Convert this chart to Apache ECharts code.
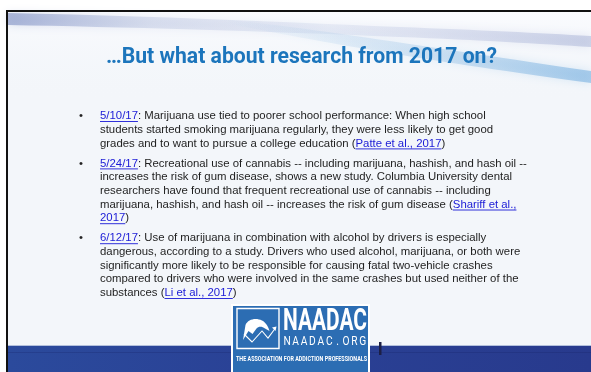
<!DOCTYPE html>
<html>
<head>
<meta charset="utf-8">
<script src="https://cdn.jsdelivr.net/npm/echarts@6/dist/echarts.min.js"></script>
<style>html,body{margin:0;padding:0;background:#fff;}#c{width:591px;height:372px;}</style>
</head>
<body>
<div id="c"></div>
<script>
// ---- content (text "data") ----
const titleText = '\u2026But what about research from 2017 on?';
const dates = ['5/10/17', '5/24/17', '6/12/17'];
const bullet1Lines = [
  [[dates[0], 1], [': Marijuana use tied to poorer school performance: When high school', 0]],
  [['students started smoking marijuana regularly, they were less likely to get good', 0]],
  [['grades and to want to pursue a college education (', 0], ['Patte et al., 2017', 1], [')', 0]]
];
const bullet2Lines = [
  [[dates[1], 1], [': Recreational use of cannabis -- including marijuana, hashish, and hash oil --', 0]],
  [['increases the risk of gum disease, shows a new study. Columbia University dental', 0]],
  [['researchers have found that frequent recreational use of cannabis -- including', 0]],
  [['marijuana, hashish, and hash oil -- increases the risk of gum disease (', 0], ['Shariff et al.,', 1]],
  [['2017', 1], [')', 0]]
];
const bullet3Lines = [
  [[dates[2], 1], [': Use of marijuana in combination with alcohol by drivers is especially', 0]],
  [['dangerous, according to a study. Drivers who used alcohol, marijuana, or both were', 0]],
  [['significantly more likely to be responsible for causing fatal two-vehicle crashes', 0]],
  [['compared to drivers who were involved in the same crashes but used neither of the', 0]],
  [['substances (', 0], ['Li et al., 2017', 1], [')', 0]]
];
const bullets = [bullet1Lines, bullet2Lines, bullet3Lines];
const logoName = 'NAADAC';
const logoUrl = 'NAADAC.ORG';
const logoTagline = 'THE ASSOCIATION FOR ADDICTION PROFESSIONALS';

// ---- layout helpers ----
const mctx = document.createElement('canvas').getContext('2d');
function tw(t, font) { mctx.font = font; return mctx.measureText(t).width; }
const BODY_FAMILY = '"Liberation Sans", Arial, sans-serif';
const TITLE_FAMILY = 'Roboto, "Liberation Sans", sans-serif';

const els = [];
function rect(x, y, w, h, fill, extra) {
  els.push(Object.assign({ type: 'rect', shape: { x, y, width: w, height: h }, style: { fill } }, extra || {}));
}
function text(x, y, t, font, fill, align, extra) {
  els.push(Object.assign({
    type: 'text', x, y,
    style: { text: t, font, fill, align: align || 'left', verticalAlign: 'middle',
             textAlign: align || 'left', textVerticalAlign: 'middle' }
  }, extra || {}));
}
let pathCount = 0;
function path(d, style, extra) {
  const name = 'decoPath' + (pathCount++);
  echarts.graphic.registerShape(name, echarts.graphic.extendPath(d, {}));
  els.push(Object.assign({ type: name, style }, extra || {}));
}

// page + slide background
rect(0, 0, 591, 372, '#ffffff');
rect(6, 10, 585, 362, '#f3f6fa');
rect(8, 12, 583, 90, { type: 'linear', x: 0, y: 0, x2: 0, y2: 1,
  colorStops: [{ offset: 0, color: 'rgba(250,251,254,1)' }, { offset: 1, color: 'rgba(243,246,250,0)' }] });

// swoosh bands (soft)
path('M8,13 C120,15 260,21 400,27 C480,30 540,33 591,36 L591,47 C540,44 480,40 400,37 C260,31 120,27 8,25 Z', {
  fill: { type: 'linear', x: 0, y: 0, x2: 1, y2: 0, colorStops: [
    { offset: 0, color: 'rgba(125,142,195,0.6)' },
    { offset: 0.25, color: 'rgba(160,174,212,0.3)' },
    { offset: 0.55, color: 'rgba(170,182,218,0.18)' },
    { offset: 0.8, color: 'rgba(160,172,212,0.3)' },
    { offset: 1, color: 'rgba(150,162,205,0.4)' }] },
  shadowBlur: 10, shadowColor: 'rgba(160,172,212,0.6)'
});
path('M220,19 C320,29 420,46 591,71 L591,83 C430,61 330,44 220,22 Z', {
  fill: { type: 'linear', x: 0, y: 0, x2: 1, y2: 0, colorStops: [
    { offset: 0, color: 'rgba(140,185,225,0)' },
    { offset: 0.5, color: 'rgba(130,180,225,0.25)' },
    { offset: 1, color: 'rgba(100,165,220,0.5)' }] },
  shadowBlur: 10, shadowColor: 'rgba(140,190,230,0.6)'
});

// black frame lines
rect(6, 10, 585, 2, '#111111');
rect(6, 10, 2, 362, '#111111');

// title
const titleFontProbe = 'bold 21px ' + TITLE_FAMILY;
const titleSize = 21 * 391 / tw(titleText, titleFontProbe);
text(301.5, 58, titleText, 'bold ' + titleSize.toFixed(2) + 'px ' + TITLE_FAMILY, '#1c75bc', 'center');

// body bullets
const probeLine = bullet1Lines[0].map(s => s[0]).join('');
const bodySize = 11 * 386 / tw(probeLine, '11px ' + BODY_FAMILY);
const bodyFont = bodySize.toFixed(2) + 'px ' + BODY_FAMILY;
const LINE_H = 13.7, PARA_GAP = 20, TEXT_X = 100, DOT_X = 79;
let y = 116;
bullets.forEach((lines) => {
  text(DOT_X, y, '\u2022', bodyFont, '#222222', 'left');
  lines.forEach((segs, li) => {
    let x = TEXT_X;
    segs.forEach(([t, link]) => {
      const w = tw(t, bodyFont);
      text(x, y, t, bodyFont, link ? '#1a1ad6' : '#1e1e1e', 'left');
      if (link) {
        els.push({ type: 'line', shape: { x1: x, y1: y + 5.5, x2: x + w, y2: y + 5.5 },
                   style: { stroke: '#1a1ad6', lineWidth: 0.9 } });
      }
      x += w;
    });
    if (li < lines.length - 1) y += LINE_H;
  });
  y += PARA_GAP;
});

// bottom band
rect(8, 346, 583, 26, { type: 'linear', x: 0, y: 0, x2: 1, y2: 0, colorStops: [
  { offset: 0, color: '#2b4a9c' }, { offset: 0.4, color: '#2a4296' }, { offset: 1, color: '#283a8d' }] });
rect(8, 345, 583, 1, '#b3c0dc');
rect(8, 352, 583, 1, 'rgba(20,30,100,0.25)');
rect(379, 342, 2.5, 13, '#1c1f45');

// logo
rect(231, 304, 139, 70, '#ffffff');
rect(233, 306, 135, 68, '#2c6db3');
els.push({ type: 'rect', shape: { x: 237, y: 308.5, width: 42, height: 40 }, style: { fill: 'none', stroke: '#ffffff', lineWidth: 1.4 } });
path('M243,340 L245.5,325 C248,319 256,317.5 262,320.5 C266,322.5 268.5,327 269.5,331 L265,328.5 C262,326 258.5,326 256.5,328.5 L252.5,334 L248.5,331 Z',
  { fill: '#ffffff' });
path('M244,334 L252,342 L262,331 L268,338 L275.5,328', { fill: 'none', stroke: '#ffffff', lineWidth: 1.1 });
path('M276.5,326.5 L272,327.5 L275.5,331 Z', { fill: '#ffffff' });

const nameFont = 'bold 31px ' + TITLE_FAMILY;
const nameW = tw(logoName, nameFont);
text(283, 322, logoName, nameFont, '#ffffff', 'left', { scaleX: 84 / nameW });
const urlFont = '12px ' + TITLE_FAMILY;
const urlStep = 84 / logoUrl.length;
logoUrl.split('').forEach((ch, i) => {
  const cx = 283 + urlStep * (i + 0.5);
  text(cx, 342, ch, urlFont, '#ffffff', 'center', { scaleX: 0.85 });
});
const tagFont = 'bold 7.5px ' + TITLE_FAMILY;
const tagW = tw(logoTagline, tagFont);
text(236, 359, logoTagline, tagFont, '#ffffff', 'left', { scaleX: 131 / tagW });

const chart = echarts.init(document.getElementById('c'), null, { renderer: 'canvas' });
chart.setOption({ animation: false, graphic: { elements: els } });
</script>
</body>
</html>
